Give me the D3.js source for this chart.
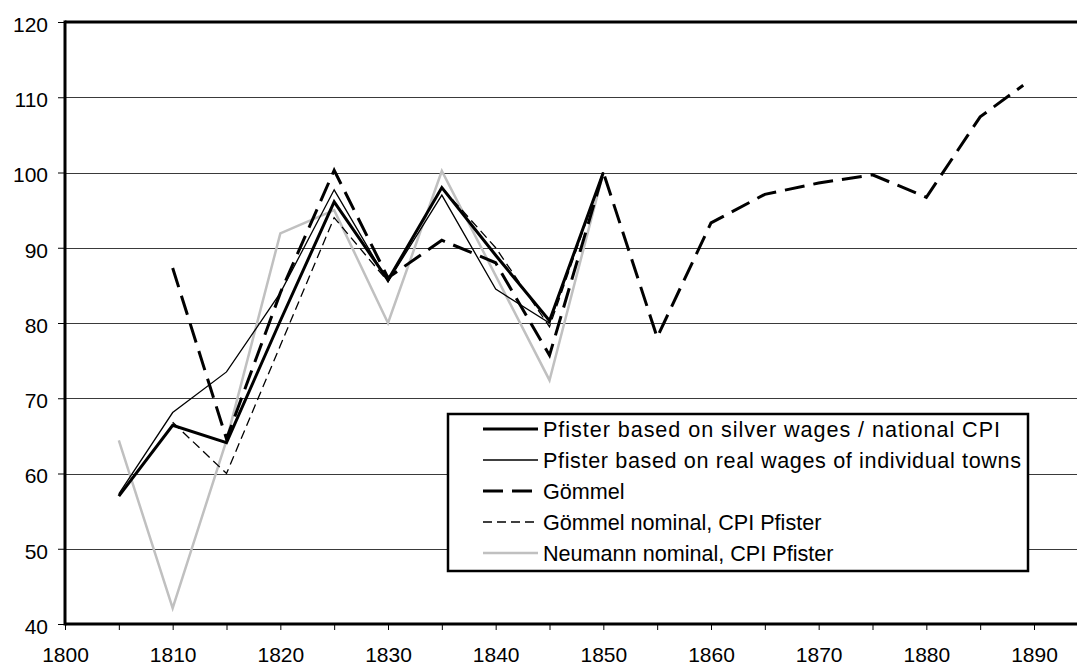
<!DOCTYPE html>
<html>
<head>
<meta charset="utf-8">
<script src="https://cdn.jsdelivr.net/npm/d3@7"></script>
<style>
  html, body { margin: 0; padding: 0; background: #fff; }
  svg { display: block; font-family: "Liberation Sans", Arial, sans-serif; }
</style>
</head>
<body>
<svg id="chart" width="1077" height="666"></svg>
<script>
// ---- data ----
const yTicks = [40, 50, 60, 70, 80, 90, 100, 110, 120];
const xTicks = [1800, 1810, 1820, 1830, 1840, 1850, 1860, 1870, 1880, 1890];

const pfisterYears = [1805, 1810, 1815, 1820, 1825, 1830, 1835, 1840, 1845, 1850];
const pfisterSilver = [57, 66.4, 64.1, 80.3, 96.1, 85.7, 98, 89, 80.3, 100];
const pfisterTowns  = [57.3, 68.1, 73.5, 84, 97.7, 85.5, 97, 84.5, 80, 100];

const gommelYears = [1810, 1815, 1820, 1825, 1830, 1835, 1840, 1845, 1850, 1855, 1860, 1865, 1870, 1875, 1880, 1885, 1889];
const gommel      = [87.3, 64.6, 84, 100.3, 86, 91, 88, 75.7, 100, 78.1, 93.3, 97.1, 98.6, 99.7, 96.7, 107.4, 111.6];

const gommelNomYears = [1810, 1815, 1820, 1825, 1830, 1835, 1840, 1845, 1850];
const gommelNominal  = [66.8, 60, 77, 94, 85.5, 98, 90, 79.5, 100];

const neumannYears = [1805, 1810, 1815, 1820, 1825, 1830, 1835, 1840, 1845, 1850];
const neumann      = [64.4, 42.1, 64.4, 91.9, 95, 80, 100.2, 86.3, 72.4, 100];

const seriesNames = [
  "Pfister based on silver wages / national CPI",
  "Pfister based on real wages of individual towns",
  "Gömmel",
  "Gömmel nominal, CPI Pfister",
  "Neumann nominal, CPI Pfister"
];

// ---- layout ----
const svg = d3.select("#chart");
const pLeft = 65, pTop = 22, pBottom = 624;
const x = d3.scaleLinear().domain([1800, 1890]).range([pLeft, 1034]);
const y = d3.scaleLinear().domain([40, 120]).range([pBottom, pTop]);
const rightEdge = 1090;

const styles = [
  { color: "#000", width: 3,   dash: null },
  { color: "#000", width: 1.3, dash: null },
  { color: "#000", width: 3,   dash: "20,9" },
  { color: "#000", width: 1.3, dash: "9,5" },
  { color: "#c0c0c0", width: 2.5, dash: null }
];
const legendTextWidths = [457, 478, null, null, null];

const series = [
  { years: pfisterYears, values: pfisterSilver },
  { years: pfisterYears, values: pfisterTowns },
  { years: gommelYears, values: gommel },
  { years: gommelNomYears, values: gommelNominal },
  { years: neumannYears, values: neumann }
];

// gridlines
svg.append("g").selectAll("line")
  .data(yTicks.filter(v => v > 40 && v < 120))
  .join("line")
  .attr("x1", pLeft).attr("x2", rightEdge)
  .attr("y1", d => Math.round(y(d)) + 0.5).attr("y2", d => Math.round(y(d)) + 0.5)
  .attr("stroke", "#3a3a3a").attr("stroke-width", 1);

// series lines
const line = d3.line().x(d => x(d[0])).y(d => y(d[1]));
const order = [4, 3, 1, 2, 0];
order.forEach(i => {
  const s = series[i], st = styles[i];
  svg.append("path")
    .datum(s.years.map((yr, k) => [yr, s.values[k]]))
    .attr("d", line)
    .attr("fill", "none")
    .attr("stroke", st.color)
    .attr("stroke-width", st.width)
    .attr("stroke-dasharray", st.dash)
    .attr("stroke-linejoin", "miter");
});

// top border
svg.append("line").attr("x1", pLeft).attr("x2", rightEdge).attr("y1", pTop).attr("y2", pTop)
  .attr("stroke", "#000").attr("stroke-width", 3);

// axes
const xAxis = d3.axisBottom(x)
  .tickValues(d3.range(1800, 1900, 5))
  .tickSize(6)
  .tickFormat(d => xTicks.includes(d) ? d : "");
const gx = svg.append("g").attr("transform", `translate(0,${pBottom})`).call(xAxis);
gx.select(".domain").remove();
gx.selectAll(".tick line").attr("stroke", "#000").attr("stroke-width", 1);
gx.selectAll(".tick text").attr("font-size", 21).attr("fill", "#000")
  .attr("font-family", "Liberation Sans, Arial, sans-serif").attr("y", 38).attr("dy", 0);

const yAxis = d3.axisLeft(y).tickValues(yTicks).tickSize(7).tickPadding(10);
const gy = svg.append("g").attr("transform", `translate(${pLeft},0)`).call(yAxis);
gy.select(".domain").remove();
gy.selectAll(".tick line").attr("stroke", "#000").attr("stroke-width", 1);
gy.selectAll(".tick text").attr("font-size", 21).attr("fill", "#000")
  .attr("font-family", "Liberation Sans, Arial, sans-serif").attr("dy", "0.45em");

svg.append("line").attr("x1", pLeft).attr("x2", rightEdge).attr("y1", pBottom).attr("y2", pBottom)
  .attr("stroke", "#000").attr("stroke-width", 3);
svg.append("line").attr("x1", pLeft).attr("x2", pLeft).attr("y1", pTop - 1.5).attr("y2", pBottom + 1.5)
  .attr("stroke", "#000").attr("stroke-width", 3);

// legend
const lg = svg.append("g");
lg.append("rect").attr("x", 448).attr("y", 414).attr("width", 580).attr("height", 157)
  .attr("fill", "#fff").attr("stroke", "#000").attr("stroke-width", 2.5);
seriesNames.forEach((name, i) => {
  const cy = 429 + i * 31;
  const st = styles[i];
  lg.append("line").attr("x1", 483).attr("x2", 538).attr("y1", cy).attr("y2", cy)
    .attr("stroke", st.color).attr("stroke-width", st.width).attr("stroke-dasharray", st.dash);
  const t = lg.append("text").attr("x", 543).attr("y", cy).attr("dy", "0.36em")
    .attr("font-size", 21.6).attr("fill", "#000").text(name);
  if (legendTextWidths[i]) t.attr("textLength", legendTextWidths[i]).attr("lengthAdjust", "spacing");
});
</script>
</body>
</html>
